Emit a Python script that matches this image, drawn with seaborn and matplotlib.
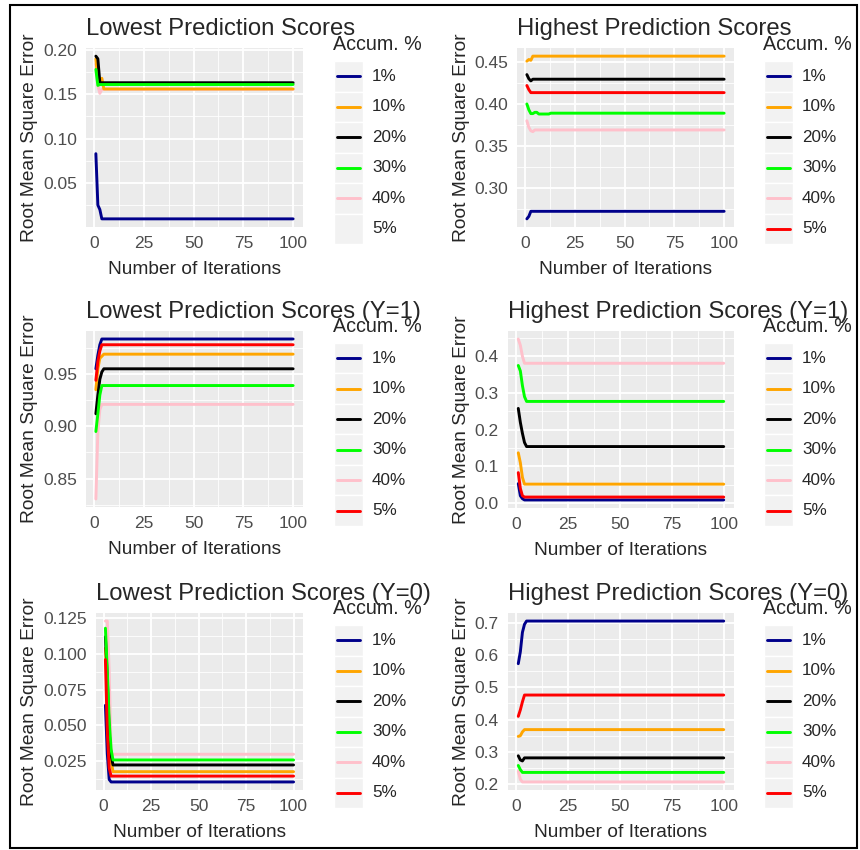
import matplotlib
matplotlib.use("Agg")
import pandas as pd
import matplotlib.pyplot as plt
import seaborn as sns
from matplotlib.patches import Rectangle

W, H = 860, 850

levels = ["1%", "10%", "20%", "30%", "40%", "5%"]
colors = ["#00008B", "#FFA500", "#000000", "#00FF00", "#FFC0CB", "#FF0000"]
draw_order = ["40%", "1%", "10%", "20%", "30%", "5%"]

# Lowest Prediction Scores (no 5% series)
low_x = {"1%": [1, 2, 3, 4, 100], "10%": [1, 2, 3, 4, 5, 100], "20%": [1, 2, 3, 100],
         "30%": [1, 2, 3, 100], "40%": [1, 2, 3, 4, 100]}
low_y = {"1%": [0.083, 0.025, 0.020, 0.0095, 0.0095],
         "10%": [0.190, 0.165, 0.163, 0.168, 0.156, 0.156],
         "20%": [0.193, 0.190, 0.163, 0.163],
         "30%": [0.178, 0.160, 0.161, 0.161],
         "40%": [0.184, 0.160, 0.151, 0.1555, 0.1555]}

# Highest Prediction Scores
high_x = {"1%": [1, 2, 3, 100], "10%": [1, 2, 3, 4, 100], "20%": [1, 2, 3, 4, 100],
          "30%": [1, 2, 3, 4, 5, 6, 7, 12, 13, 100], "40%": [1, 2, 3, 4, 5, 100],
          "5%": [1, 2, 3, 100]}
high_y = {"1%": [0.263, 0.266, 0.272, 0.272],
          "10%": [0.451, 0.453, 0.452, 0.457, 0.457],
          "20%": [0.435, 0.430, 0.4275, 0.4295, 0.4295],
          "30%": [0.400, 0.393, 0.3885, 0.3885, 0.390, 0.390, 0.388, 0.388, 0.389, 0.389],
          "40%": [0.380, 0.372, 0.368, 0.367, 0.369, 0.369],
          "5%": [0.422, 0.417, 0.4135, 0.4135]}

# Lowest Prediction Scores (Y=1)
low1_x = {"1%": [1, 2, 3, 4, 100], "10%": [1, 2, 3, 4, 5, 100], "20%": [1, 2, 3, 4, 5, 100],
          "30%": [1, 2, 3, 4, 100], "40%": [1, 2, 3, 4, 100], "5%": [1, 2, 3, 4, 100]}
low1_y = {"1%": [0.955, 0.968, 0.978, 0.9835, 0.9835],
          "10%": [0.935, 0.955, 0.965, 0.967, 0.969, 0.969],
          "20%": [0.912, 0.930, 0.945, 0.952, 0.955, 0.955],
          "30%": [0.895, 0.912, 0.930, 0.939, 0.939],
          "40%": [0.8305, 0.895, 0.916, 0.921, 0.921],
          "5%": [0.944, 0.962, 0.972, 0.978, 0.978]}

# Highest Prediction Scores (Y=1)
high1_x = {"1%": [1, 2, 3, 4, 100], "10%": [1, 2, 3, 4, 100], "20%": [1, 2, 3, 4, 5, 100],
           "30%": [1, 2, 3, 4, 5, 100], "40%": [1, 2, 3, 4, 100], "5%": [1, 2, 3, 4, 100]}
high1_y = {"1%": [0.053, 0.020, 0.012, 0.0085, 0.0085],
           "10%": [0.137, 0.110, 0.070, 0.0516, 0.0516],
           "20%": [0.258, 0.220, 0.190, 0.165, 0.154, 0.154],
           "30%": [0.375, 0.360, 0.320, 0.290, 0.277, 0.277],
           "40%": [0.447, 0.430, 0.400, 0.381, 0.381],
           "5%": [0.083, 0.040, 0.020, 0.0164, 0.0164]}

# Lowest Prediction Scores (Y=0)
low0_x = {k: [1, 2, 3, 4, 5, 100] for k in levels}
low0_y = {"1%": [0.064, 0.030, 0.012, 0.0103, 0.0103, 0.0103],
          "10%": [0.104, 0.075, 0.040, 0.025, 0.0175, 0.0175],
          "20%": [0.112, 0.083, 0.045, 0.029, 0.0222, 0.0222],
          "30%": [0.118, 0.088, 0.053, 0.033, 0.0257, 0.0257],
          "40%": [0.123, 0.123, 0.088, 0.030, 0.0297, 0.0297],
          "5%": [0.096, 0.045, 0.020, 0.0144, 0.0144, 0.0144]}

# Highest Prediction Scores (Y=0)
high0_x = {"1%": [1, 2, 3, 4, 5, 100], "10%": [1, 2, 3, 4, 100], "20%": [1, 2, 3, 4, 100],
           "30%": [1, 2, 3, 100], "40%": [1, 2, 3, 100], "5%": [1, 2, 3, 4, 100]}
high0_y = {"1%": [0.573, 0.610, 0.670, 0.695, 0.705, 0.705],
           "10%": [0.348, 0.350, 0.362, 0.369, 0.369],
           "20%": [0.288, 0.275, 0.272, 0.2815, 0.2815],
           "30%": [0.258, 0.245, 0.2365, 0.2365],
           "40%": [0.240, 0.215, 0.207, 0.207],
           "5%": [0.410, 0.430, 0.455, 0.476, 0.476]}

x_ticks = [0, 25, 50, 75, 100]

panels = [
    # title, xs, ys, yticks, fmt, panel box px (l, t, r, b), legend key left, legend key top
    ("Lowest Prediction Scores", low_x, low_y, [0.05, 0.10, 0.15, 0.20], "{:.2f}",
     (86, 48, 303, 227), 334, 61),
    ("Highest Prediction Scores", high_x, high_y, [0.30, 0.35, 0.40, 0.45], "{:.2f}",
     (517, 48, 734, 227), 764, 61),
    ("Lowest Prediction Scores (Y=1)", low1_x, low1_y, [0.85, 0.90, 0.95], "{:.2f}",
     (86, 331, 303, 507), 334, 343),
    ("Highest Prediction Scores (Y=1)", high1_x, high1_y, [0.0, 0.1, 0.2, 0.3, 0.4], "{:.1f}",
     (508, 331, 734, 508), 764, 343),
    ("Lowest Prediction Scores (Y=0)", low0_x, low0_y, [0.025, 0.050, 0.075, 0.100, 0.125], "{:.3f}",
     (96, 613, 303, 790), 334, 625),
    ("Highest Prediction Scores (Y=0)", high0_x, high0_y, [0.2, 0.3, 0.4, 0.5, 0.6, 0.7], "{:.1f}",
     (508, 613, 734, 790), 764, 625),
]

sns.set_theme(style="darkgrid", rc={
    "axes.facecolor": "#EBEBEB", "grid.color": "white",
    "xtick.major.size": 4.5, "ytick.major.size": 4.5,
    "xtick.major.width": 1.0, "ytick.major.width": 1.0,
    "xtick.color": "#333333", "ytick.color": "#333333",
    "xtick.minor.size": 0, "ytick.minor.size": 0,
})
plt.rcParams["font.family"] = ["Liberation Sans", "DejaVu Sans"]

fig = plt.figure(figsize=(W / 100, H / 100), dpi=100)
palette = dict(zip(levels, colors))


def fx(x):
    return x / W


def fy(y):
    return 1 - y / H


for title, xs, ys, yticks, fmt, box, leg_x, leg_y in panels:
    l, t, r, b = box
    ax = fig.add_axes([fx(l), fy(b), (r - l) / W, (b - t) / H])

    rows = []
    for lev in xs:
        for x, y in zip(xs[lev], ys[lev]):
            rows.append({"iter": x, "rmse": y, "pct": lev})
    df = pd.DataFrame(rows)
    order = [k for k in draw_order if k in xs]
    sns.lineplot(data=df, x="iter", y="rmse", hue="pct", hue_order=order,
                 palette=palette, legend=False, ax=ax, linewidth=2.1,
                 estimator=None, sort=False)

    # ggplot-like 5% expansion
    xmin, xmax = df["iter"].min(), df["iter"].max()
    ymin, ymax = df["rmse"].min(), df["rmse"].max()
    ylim = (ymin - 0.05 * (ymax - ymin), ymax + 0.05 * (ymax - ymin))
    ax.set_xlim(xmin - 0.05 * (xmax - xmin), xmax + 0.05 * (xmax - xmin))

    ax.set_xticks(x_ticks)
    ax.set_xticklabels([str(v) for v in x_ticks])
    ax.set_yticks(yticks)
    ax.set_yticklabels([fmt.format(v) for v in yticks])
    ax.set_xticks([12.5, 37.5, 62.5, 87.5], minor=True)
    step = yticks[1] - yticks[0]
    ax.set_yticks([v + step / 2 for v in [yticks[0] - step] + yticks], minor=True)
    ax.set_ylim(*ylim)
    ax.grid(which="major", color="white", linewidth=1.3)
    ax.grid(which="minor", color="white", linewidth=0.6)
    ax.tick_params(axis="both", which="major", labelsize=12.5, labelcolor="#4D4D4D", pad=2)
    for s in ax.spines.values():
        s.set_visible(False)
    ax.set_xlabel("")
    ax.set_ylabel("")

    fig.text(fx(l), fy(t - 13), title, fontsize=17.2, ha="left", va="baseline")
    fig.text(fx((l + r) / 2), fy(b + 47), "Number of Iterations", fontsize=13.8,
             ha="center", va="baseline")
    yl_x = 30 if l < 430 else 461
    fig.text(fx(yl_x), fy((t + b) / 2), "Root Mean Square Error", fontsize=13.8,
             rotation=90, ha="center", va="center")

    # legend
    kh, kw = 30.5, 29
    fig.text(fx(leg_x - 1), fy(leg_y - 11), "Accum. %", fontsize=14.2,
             ha="left", va="baseline")
    lax = fig.add_axes([fx(leg_x), fy(leg_y + 6 * kh), kw / W, 6 * kh / H])
    lax.set_xlim(0, 1)
    lax.set_ylim(6, 0)
    lax.axis("off")
    for i, (lev, col) in enumerate(zip(levels, colors)):
        lax.add_patch(Rectangle((0, i), 1, 1, facecolor="#F2F2F2", edgecolor="white", lw=1))
        if lev in xs:
            lax.plot([0.1, 0.9], [i + 0.5, i + 0.5], color=col, lw=2.1)
        fig.text(fx(leg_x + 38), fy(leg_y + (i + 0.5) * kh), lev, fontsize=12.3,
                 ha="left", va="center")

fig.add_artist(Rectangle((fx(10), fy(848)), fx(847), (848 - 5) / H, transform=fig.transFigure,
                         fill=False, edgecolor="black", linewidth=1.5))

fig.savefig("out.png", dpi=100, facecolor="white")
